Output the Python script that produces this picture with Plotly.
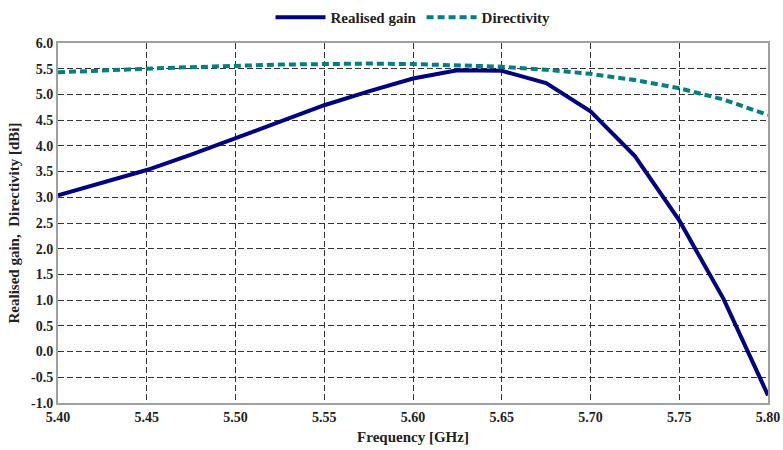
import plotly.graph_objects as go

freq = [5.400, 5.425, 5.450, 5.475, 5.500, 5.525, 5.550, 5.575, 5.600, 5.625, 5.650, 5.675, 5.700, 5.725, 5.750, 5.775, 5.800]
realised_gain = [3.04, 3.28, 3.53, 3.83, 4.15, 4.48, 4.79, 5.06, 5.31, 5.47, 5.46, 5.22, 4.67, 3.80, 2.55, 1.02, -0.85]
directivity = [5.43, 5.47, 5.50, 5.53, 5.56, 5.58, 5.59, 5.60, 5.59, 5.57, 5.54, 5.48, 5.40, 5.28, 5.12, 4.90, 4.60]
x_ticks = [5.40, 5.45, 5.50, 5.55, 5.60, 5.65, 5.70, 5.75, 5.80]
y_ticks = [-1.0, -0.5, 0.0, 0.5, 1.0, 1.5, 2.0, 2.5, 3.0, 3.5, 4.0, 4.5, 5.0, 5.5, 6.0]

font_family = "Liberation Serif"

fig = go.Figure()
fig.add_trace(go.Scatter(x=freq, y=realised_gain, mode="lines", name="<b>Realised gain</b>",
                         line=dict(color="#000080", width=4)))
fig.add_trace(go.Scatter(x=freq, y=directivity, mode="lines", name="<b>Directivity</b>",
                         line=dict(color="#008080", width=4, dash="7px,4px")))

axis_common = dict(
    showline=True, linecolor="#a0a0a0", linewidth=2, mirror=True,
    showgrid=True, gridcolor="#333333", griddash="6px,3px", gridwidth=1,
    ticks="", zeroline=False, automargin=False,
    tickfont=dict(family=font_family, size=14, color="#222222"),
)

fig.update_xaxes(range=[5.40, 5.80], tickvals=x_ticks,
                 ticktext=[f"<b>{v:.2f}</b>" for v in x_ticks],
                 title=dict(text="<b>Frequency [GHz]</b>", font=dict(family=font_family, size=15, color="#222222"), standoff=8),
                 **axis_common)
fig.update_yaxes(range=[-1.0, 6.0], tickvals=y_ticks,
                 ticktext=[f"<b>{v:.1f}</b>" for v in y_ticks],
                 title=dict(text="<b>Realised gain,  Directivity [dBi]</b>", font=dict(family=font_family, size=15, color="#222222"), standoff=8),
                 **axis_common)

fig.update_layout(
    width=783, height=450,
    margin=dict(l=58, r=15, t=43, b=47, autoexpand=False),
    plot_bgcolor="white", paper_bgcolor="white",
    font=dict(family=font_family, color="#222222"),
    legend=dict(orientation="h", x=0.5, xanchor="center", y=1.025, yanchor="bottom",
                font=dict(family=font_family, size=15, color="#222222"),
                itemwidth=50, traceorder="normal"),
    showlegend=True,
)

fig.write_html("out.html")
